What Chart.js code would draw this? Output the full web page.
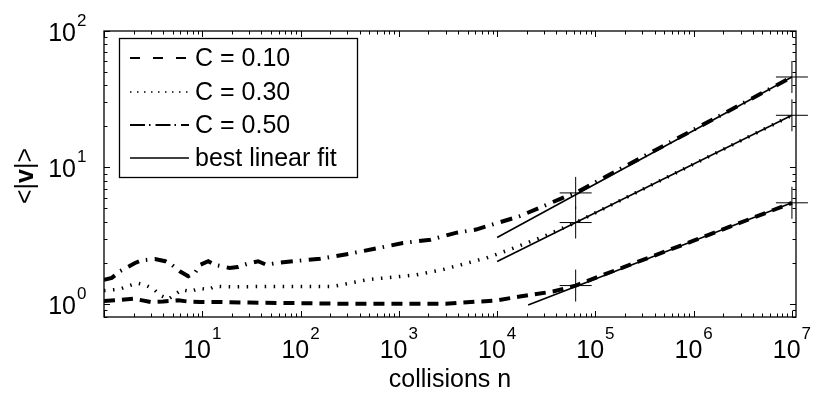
<!DOCTYPE html>
<html>
<head>
<meta charset="utf-8">
<script src="https://cdn.jsdelivr.net/npm/chart.js@4.4.1/dist/chart.umd.min.js"></script>
<style>
  html, body { margin: 0; padding: 0; background: #fff; }
  canvas { display: block; }
</style>
</head>
<body>
<canvas id="myChart" width="830" height="394"></canvas>
<script>
// collisions n  vs  <|v|>   (log-log)
const nC10 = [1, 1.5, 2, 3, 4, 5.7, 7, 9.5, 15, 30, 100, 300, 1000, 3000, 1e4, 1.7e4, 3.7e4, 6.3e4, 1e5, 1e6, 1e7];
const vC10 = [1.05, 1.07, 1.09, 1.03, 1.04, 1.06, 1.04, 1.03, 1.03, 1.02, 1.01, 1.0, 1.0, 1.0, 1.06, 1.13, 1.23, 1.36, 1.55, 2.9, 5.5];

const nC30 = [1, 1.45, 2.15, 2.6, 3.2, 3.7, 4.5, 6.2, 7.5, 9.5, 11.5, 13.4, 20, 50, 215, 470, 1500, 2800, 7800, 1.35e4, 3e4, 6.3e4, 1e7];
const vC30 = [1.25, 1.28, 1.42, 1.38, 1.28, 1.16, 1.08, 1.27, 1.23, 1.30, 1.27, 1.34, 1.33, 1.34, 1.34, 1.5, 1.63, 1.78, 2.17, 2.5, 3.12, 3.94, 24.1];

const nC50 = [1, 1.2, 1.45, 2.07, 2.4, 3.3, 4.2, 4.9, 5.9, 7.2, 8.4, 9.5, 11.5, 13.4, 19, 23, 29, 37, 45, 57, 84, 158, 316, 550, 1100, 2100, 3800, 6100, 1.7e4, 5.1e4, 6.3e4, 1e7];
const vC50 = [1.5, 1.55, 1.73, 1.99, 2.08, 2.13, 2.05, 1.93, 1.73, 1.59, 1.68, 1.93, 2.05, 1.93, 1.83, 1.86, 1.97, 2.05, 1.93, 1.99, 2.05, 2.14, 2.33, 2.52, 2.79, 2.95, 3.31, 3.5, 4.39, 6.15, 6.5, 46];

// best linear fits (end points)
const fitN10 = [2.07e4, 1e7];
const fitV10 = [0.98, 5.5];
const fitN30 = [1e4, 1e7];
const fitV30 = [2.04, 24.1];
const fitN50 = [1e4, 1e7];
const fitV50 = [3.06, 46];

// cross markers
const crossN = [6.3e4, 6.3e4, 6.3e4, 1e7, 1e7, 1e7];
const crossV = [6.5, 3.94, 1.36, 46, 24.1, 5.5];

const xTickExps = [1, 2, 3, 4, 5, 6, 7];
const yTickExps = [0, 1, 2];

const legendLabels = ['C = 0.10', 'C = 0.30', 'C = 0.50', 'best linear fit'];

const FONT = '"Liberation Sans", Arial, Helvetica, sans-serif';

function pts(ns, vs) {
  return ns.map((n, i) => ({ x: n, y: vs[i] }));
}

const styles = [
  { dash: [11, 7], width: 4, legDash: [10, 13], legWidth: 2 },
  { dash: [1.5, 7.5], width: 3.5, legDash: [1.5, 5.5], legWidth: 1.5 },
  { dash: [12, 7, 1.5, 7.5], width: 4, legDash: [15, 4, 1.5, 5], legWidth: 2 },
  { dash: [], width: 1.6, legDash: [], legWidth: 1.6 }
];

function lineDs(label, data, st) {
  return {
    label: label,
    data: data,
    borderColor: '#000',
    borderWidth: st.width,
    borderDash: st.dash,
    borderCapStyle: 'butt',
    pointRadius: 0,
    tension: 0,
    fill: false
  };
}

const frameAndLabels = {
  id: 'frameAndLabels',
  afterDraw(chart) {
    const c = chart.ctx;
    const a = chart.chartArea;
    const xs = chart.scales.x, ys = chart.scales.y;
    c.save();
    c.strokeStyle = '#000';
    c.fillStyle = '#000';
    c.lineWidth = 1.3;
    c.setLineDash([]);
    c.strokeRect(a.left, a.top, a.right - a.left, a.bottom - a.top);

    // ticks pointing inward
    c.lineWidth = 1;
    c.beginPath();
    for (let e = 0; e <= 7; e++) {
      for (let m = 1; m <= 9; m++) {
        const v = m * Math.pow(10, e);
        if (v < xs.min || v > xs.max) continue;
        const px = Math.round(xs.getPixelForValue(v)) + 0.5;
        const len = m === 1 ? 6 : 3.5;
        c.moveTo(px, a.bottom); c.lineTo(px, a.bottom - len);
        c.moveTo(px, a.top); c.lineTo(px, a.top + len);
      }
    }
    for (let e = -1; e <= 2; e++) {
      for (let m = 1; m <= 9; m++) {
        const v = m * Math.pow(10, e);
        if (v < ys.min || v > ys.max) continue;
        const py = Math.round(ys.getPixelForValue(v)) + 0.5;
        const len = m === 1 ? 6 : 3.5;
        c.moveTo(a.left, py); c.lineTo(a.left + len, py);
        c.moveTo(a.right, py); c.lineTo(a.right - len, py);
      }
    }
    c.stroke();

    // x tick labels 10^k
    const big = '25px ' + FONT, sup = '17px ' + FONT;
    xTickExps.forEach(e => {
      const px = xs.getPixelForValue(Math.pow(10, e));
      c.font = big;
      const w1 = c.measureText('10').width;
      c.font = sup;
      const w2 = c.measureText(String(e)).width;
      const x0 = px - (w1 + 1 + w2) / 2;
      c.textAlign = 'left';
      c.textBaseline = 'alphabetic';
      c.font = big;
      c.fillText('10', x0, a.bottom + 41);
      c.font = sup;
      c.fillText(String(e), x0 + w1 + 1, a.bottom + 22);
    });

    // y tick labels
    yTickExps.forEach(e => {
      const py = ys.getPixelForValue(Math.pow(10, e));
      c.font = big;
      c.textAlign = 'right';
      c.textBaseline = 'alphabetic';
      c.fillText('10', 76, py + 10);
      c.font = sup;
      c.textAlign = 'left';
      c.fillText(String(e), 77, py - 5);
    });

    // axis titles
    c.font = big;
    c.textAlign = 'center';
    c.textBaseline = 'alphabetic';
    c.fillText('collisions n', (a.left + a.right) / 2, 387);

    // y title <|v|> with bold v, rotated
    c.save();
    c.translate(33, 176);
    c.rotate(-Math.PI / 2);
    const parts = [['<|', big], ['v', 'bold ' + big], ['|>', big]];
    let total = 0;
    parts.forEach(p => { c.font = p[1]; total += c.measureText(p[0]).width; });
    let cx = -total / 2;
    c.textAlign = 'left';
    parts.forEach(p => {
      c.font = p[1];
      c.fillText(p[0], cx, 0);
      cx += c.measureText(p[0]).width;
    });
    c.restore();

    // legend box
    const bx = 119, by = 38, bw = 238, bh = 139;
    c.fillStyle = '#fff';
    c.fillRect(bx, by, bw, bh);
    c.lineWidth = 1.3;
    c.strokeRect(bx + 0.5, by + 0.5, bw, bh);
    c.fillStyle = '#000';
    const rowY = [58, 92, 125, 158];
    legendLabels.forEach((lab, i) => {
      const st = styles[i];
      c.beginPath();
      c.setLineDash(st.legDash);
      c.lineWidth = st.legWidth;
      c.moveTo(130, rowY[i]);
      c.lineTo(189, rowY[i]);
      c.stroke();
      c.setLineDash([]);
      c.font = big;
      c.textAlign = 'left';
      c.textBaseline = 'middle';
      c.fillText(lab, 195, rowY[i] + 1);
    });
    c.restore();
  }
};

new Chart(document.getElementById('myChart'), {
  type: 'line',
  data: {
    datasets: [
      lineDs('C = 0.10', pts(nC10, vC10), styles[0]),
      lineDs('C = 0.30', pts(nC30, vC30), styles[1]),
      lineDs('C = 0.50', pts(nC50, vC50), styles[2]),
      lineDs('best linear fit', pts(fitN10, fitV10), styles[3]),
      lineDs('fit 0.30', pts(fitN30, fitV30), styles[3]),
      lineDs('fit 0.50', pts(fitN50, fitV50), styles[3]),
      {
        label: 'marks',
        data: pts(crossN, crossV),
        showLine: false,
        pointStyle: 'cross',
        pointRadius: 16,
        pointBorderWidth: 1,
        pointBorderColor: '#000',
        borderColor: '#000',
        clip: false
      }
    ]
  },
  options: {
    responsive: false,
    devicePixelRatio: 1,
    animation: false,
    layout: { padding: { left: 104, right: 34, top: 31, bottom: 77 } },
    plugins: { legend: { display: false }, tooltip: { enabled: false } },
    scales: {
      x: { type: 'logarithmic', min: 1, max: 1.1e7, display: false },
      y: { type: 'logarithmic', min: 0.8, max: 100, display: false }
    }
  },
  plugins: [frameAndLabels]
});
</script>
</body>
</html>
